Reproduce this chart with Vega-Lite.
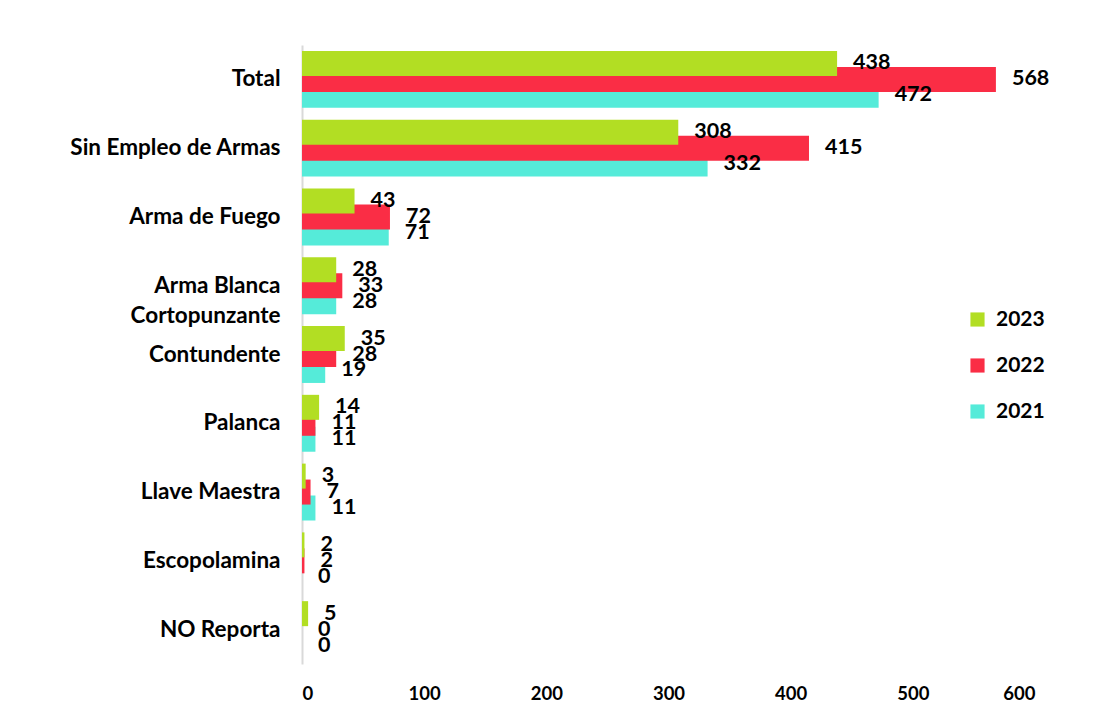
{
  "$schema": "https://vega.github.io/schema/vega-lite/v6.json",
  "autosize": "none",
  "width": 733,
  "height": 619,
  "padding": {"left": 302, "top": 45, "right": 75, "bottom": 57},
  "background": "white",
  "config": {"view": {"stroke": null}},
  "data": {
    "values": [
      {"categoria": "Total", "anio": "2021", "valor": 472},
      {"categoria": "Sin Empleo de Armas", "anio": "2021", "valor": 332},
      {"categoria": "Arma de Fuego", "anio": "2021", "valor": 71},
      {"categoria": "Arma Blanca Cortopunzante", "anio": "2021", "valor": 28},
      {"categoria": "Contundente", "anio": "2021", "valor": 19},
      {"categoria": "Palanca", "anio": "2021", "valor": 11},
      {"categoria": "Llave Maestra", "anio": "2021", "valor": 11},
      {"categoria": "Escopolamina", "anio": "2021", "valor": 0},
      {"categoria": "NO Reporta", "anio": "2021", "valor": 0},
      {"categoria": "Total", "anio": "2022", "valor": 568},
      {"categoria": "Sin Empleo de Armas", "anio": "2022", "valor": 415},
      {"categoria": "Arma de Fuego", "anio": "2022", "valor": 72},
      {"categoria": "Arma Blanca Cortopunzante", "anio": "2022", "valor": 33},
      {"categoria": "Contundente", "anio": "2022", "valor": 28},
      {"categoria": "Palanca", "anio": "2022", "valor": 11},
      {"categoria": "Llave Maestra", "anio": "2022", "valor": 7},
      {"categoria": "Escopolamina", "anio": "2022", "valor": 2},
      {"categoria": "NO Reporta", "anio": "2022", "valor": 0},
      {"categoria": "Total", "anio": "2023", "valor": 438},
      {"categoria": "Sin Empleo de Armas", "anio": "2023", "valor": 308},
      {"categoria": "Arma de Fuego", "anio": "2023", "valor": 43},
      {"categoria": "Arma Blanca Cortopunzante", "anio": "2023", "valor": 28},
      {"categoria": "Contundente", "anio": "2023", "valor": 35},
      {"categoria": "Palanca", "anio": "2023", "valor": 14},
      {"categoria": "Llave Maestra", "anio": "2023", "valor": 3},
      {"categoria": "Escopolamina", "anio": "2023", "valor": 2},
      {"categoria": "NO Reporta", "anio": "2023", "valor": 5}
    ]
  },
  "encoding": {
    "y": {
      "field": "categoria",
      "type": "nominal",
      "sort": ["Total", "Sin Empleo de Armas", "Arma de Fuego", "Arma Blanca Cortopunzante", "Contundente", "Palanca", "Llave Maestra", "Escopolamina", "NO Reporta"],
      "scale": {"paddingInner": 0, "paddingOuter": 0},
      "axis": {
        "title": null,
        "ticks": false,
        "domainColor": "#d9d9d9",
        "domainWidth": 2,
        "labelFont": "Lato",
        "labelFontWeight": "bold",
        "labelFontSize": 22.5,
        "labelColor": "#000000",
        "labelPadding": 22,
        "labelLimit": 300,
        "labelLineHeight": 30,
        "labelExpr": "datum.value == 'Arma Blanca Cortopunzante' ? ['Arma Blanca ', 'Cortopunzante'] : datum.value"
      }
    },
    "yOffset": {
      "field": "anio",
      "type": "nominal",
      "sort": ["2023", "2022", "2021"],
      "scale": {"paddingInner": 0, "paddingOuter": 0.656}
    },
    "x": {
      "field": "valor",
      "type": "quantitative",
      "scale": {"domain": [0, 600], "nice": false},
      "axis": {
        "title": null,
        "values": [0, 100, 200, 300, 400, 500, 600],
        "grid": false,
        "domain": false,
        "ticks": false,
        "labelFont": "Lato",
        "labelFontWeight": "bold",
        "labelFontSize": 18.5,
        "labelColor": "#000000",
        "labelPadding": 20
      }
    }
  },
  "layer": [
    {
      "mark": {"type": "bar", "height": 25},
      "encoding": {
        "color": {
          "field": "anio",
          "type": "nominal",
          "scale": {"domain": ["2023", "2022", "2021"], "range": ["#B2DE23", "#FA2D45", "#55EBD9"]},
          "legend": {
            "title": null,
            "orient": "none",
            "legendX": 665,
            "legendY": 264,
            "symbolType": "square",
            "symbolSize": 200,
            "symbolStrokeWidth": 0,
            "labelFont": "Lato",
            "labelFontWeight": "bold",
            "labelFontSize": 21,
            "labelColor": "#000000",
            "labelOffset": 8,
            "rowPadding": 24
          }
        }
      }
    },
    {
      "mark": {"type": "text", "align": "left", "baseline": "middle", "dx": 16, "font": "Lato", "fontWeight": "bold", "fontSize": 21.5, "color": "#000000"},
      "encoding": {
        "text": {"field": "valor", "type": "quantitative"}
      }
    }
  ]
}
